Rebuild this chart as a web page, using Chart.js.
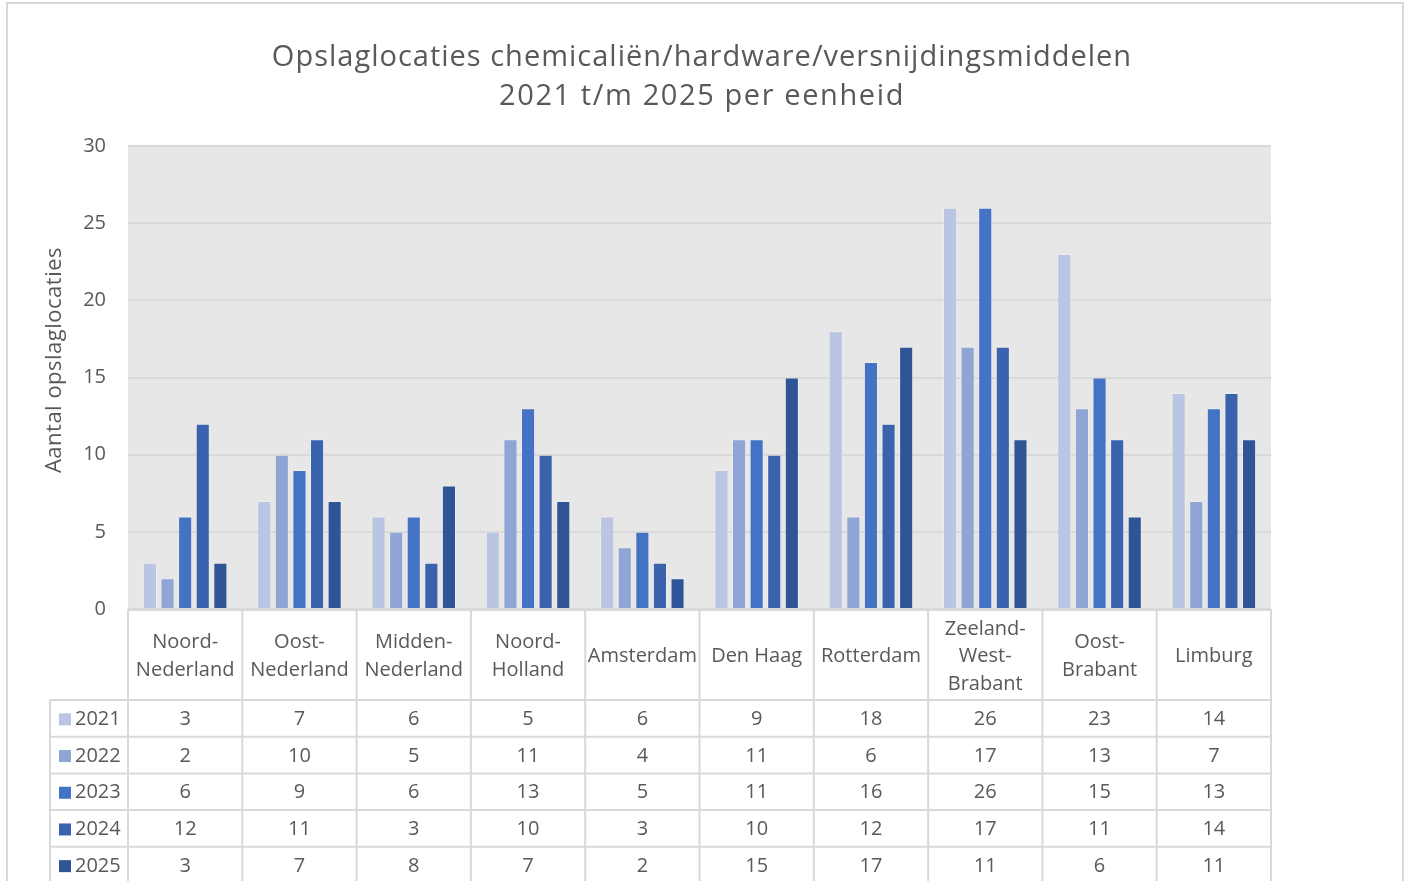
<html>
<head>
    <meta charset="utf-8">
    <title>Opslaglocaties</title>
    <script src="https://cdn.jsdelivr.net/npm/chart.js"></script>
    <style>
        body { margin: 0; background: #fff; }
    </style>
</head>
<body>
<canvas id="chart" width="1407" height="881"></canvas>

<script>
    // categorieën (eenheden), als regels voor meerregelige labels
    const eenheden = [
        ['Noord-', 'Nederland'],
        ['Oost-', 'Nederland'],
        ['Midden-', 'Nederland'],
        ['Noord-', 'Holland'],
        ['Amsterdam'],
        ['Den Haag'],
        ['Rotterdam'],
        ['Zeeland-', 'West-', 'Brabant'],
        ['Oost-', 'Brabant'],
        ['Limburg']
    ];
    const jaren = ['2021', '2022', '2023', '2024', '2025'];

    const waarden2021 = [3, 7, 6, 5, 6, 9, 18, 26, 23, 14];
    const waarden2022 = [2, 10, 5, 11, 4, 11, 6, 17, 13, 7];
    const waarden2023 = [6, 9, 6, 13, 5, 11, 16, 26, 15, 13];
    const waarden2024 = [12, 11, 3, 10, 3, 10, 12, 17, 11, 14];
    const waarden2025 = [3, 7, 8, 7, 2, 15, 17, 11, 6, 11];

    const yTicks = [0, 5, 10, 15, 20, 25, 30];

    const titel = ['Opslaglocaties chemicaliën/hardware/versnijdingsmiddelen', '2021 t/m 2025 per eenheid'];
    const asTitel = 'Aantal opslaglocaties';

    const kleuren = ['#BAC5E3', '#8FA5D6', '#4472C4', '#3B63AD', '#2F5597'];
    const tekstKleur = '#595959';
    const lijnKleur = '#D9D9D9';
    const font = '"Open Sans", "Noto Sans", sans-serif';

    const reeksen = [waarden2021, waarden2022, waarden2023, waarden2024, waarden2025];

    // tabel onder de grafiek, titels + achtergrond van het plotgebied
    const tabelPlugin = {
        id: 'dataTabel',
        beforeDraw(chart) {
            const {ctx, chartArea: a} = chart;
            ctx.save();
            ctx.strokeStyle = lijnKleur;
            ctx.lineWidth = 2;
            ctx.strokeRect(7, 3, 1396, 920);
            ctx.fillStyle = '#E7E7E7';
            ctx.fillRect(a.left, a.top, a.right - a.left, a.bottom - a.top);
            ctx.restore();
        },
        afterDraw(chart) {
            const {ctx, chartArea: a} = chart;
            const x = chart.scales.x;
            const half = (x.getPixelForValue(1) - x.getPixelForValue(0)) / 2;
            const kopHoogte = 91;
            const rijHoogte = 36.7;
            const legendaLinks = 50;
            const kopOnder = a.bottom + kopHoogte;
            const onder = chart.height + 10;

            ctx.save();
            ctx.strokeStyle = lijnKleur;
            ctx.lineWidth = 2;
            ctx.beginPath();
            // bovenrand onder plotgebied
            ctx.moveTo(a.left, a.bottom + 1);
            ctx.lineTo(a.right, a.bottom + 1);
            // verticale lijnen tussen eenheden
            for (let i = 0; i <= eenheden.length; i++) {
                const lx = x.getPixelForValue(i) - half;
                ctx.moveTo(lx, a.bottom);
                ctx.lineTo(lx, onder);
            }
            // legenda kolom
            ctx.moveTo(legendaLinks, kopOnder);
            ctx.lineTo(legendaLinks, onder);
            // horizontale lijnen
            for (let r = 0; r < jaren.length; r++) {
                const ly = kopOnder + r * rijHoogte;
                ctx.moveTo(legendaLinks, ly);
                ctx.lineTo(a.right, ly);
            }
            ctx.stroke();

            ctx.fillStyle = tekstKleur;
            ctx.font = '20px ' + font;
            ctx.textAlign = 'center';
            ctx.textBaseline = 'middle';

            // kop met namen van eenheden
            const kopMidden = a.bottom + kopHoogte / 2 + 2;
            eenheden.forEach((regels, i) => {
                const cx = x.getPixelForValue(i);
                const start = kopMidden - (regels.length - 1) * 27.5 / 2;
                regels.forEach((t, k) => ctx.fillText(t, cx, start + k * 27.5));
            });

            // datarijen
            reeksen.forEach((reeks, r) => {
                const cy = kopOnder + r * rijHoogte + rijHoogte / 2 + 1;
                ctx.fillStyle = kleuren[r];
                ctx.fillRect(59, cy - 6, 12, 12);
                ctx.fillStyle = tekstKleur;
                ctx.textAlign = 'left';
                ctx.fillText(jaren[r], 75, cy);
                ctx.textAlign = 'center';
                reeks.forEach((v, i) => ctx.fillText(String(v), x.getPixelForValue(i), cy));
            });

            // grafiektitel
            ctx.font = '29px ' + font;
            ctx.letterSpacing = '1px';
            ctx.fillText(titel[0], 702, 58);
            ctx.letterSpacing = '1.6px';
            ctx.fillText(titel[1], 702, 97);

            // as-titel
            ctx.save();
            ctx.translate(55, 360);
            ctx.rotate(-Math.PI / 2);
            ctx.font = '22px ' + font;
            ctx.letterSpacing = '0.5px';
            ctx.fillText(asTitel, 0, 0);
            ctx.restore();

            ctx.restore();
        }
    };

    const ctx = document.getElementById('chart').getContext('2d');

    new Chart(ctx, {
        type: 'bar',
        data: {
            labels: eenheden.map(r => r.join(' ')),
            datasets: jaren.map((jaar, i) => ({
                label: jaar,
                data: reeksen[i],
                backgroundColor: kleuren[i],
                borderColor: 'rgba(255,255,255,0.25)',
                borderWidth: 1,
                categoryPercentage: 0.77,
                barPercentage: 0.8
            }))
        },
        options: {
            responsive: false,
            animation: false,
            layout: {padding: {left: 0, right: 136, top: 146, bottom: 0}},
            plugins: {
                legend: {display: false},
                tooltip: {enabled: false},
                title: {display: false}
            },
            scales: {
                x: {
                    ticks: {display: false},
                    grid: {display: false},
                    border: {display: false},
                    afterFit(scale) { scale.height = 272; }
                },
                y: {
                    min: 0,
                    max: 30,
                    afterBuildTicks(scale) { scale.ticks = yTicks.map(v => ({value: v})); },
                    ticks: {
                        color: tekstKleur,
                        font: {family: font, size: 20},
                        padding: 22
                    },
                    grid: {color: lijnKleur, lineWidth: 2, drawTicks: false},
                    border: {display: false},
                    afterFit(scale) { scale.width = 128; }
                }
            }
        },
        plugins: [tabelPlugin]
    });
</script>
</body>
</html>
